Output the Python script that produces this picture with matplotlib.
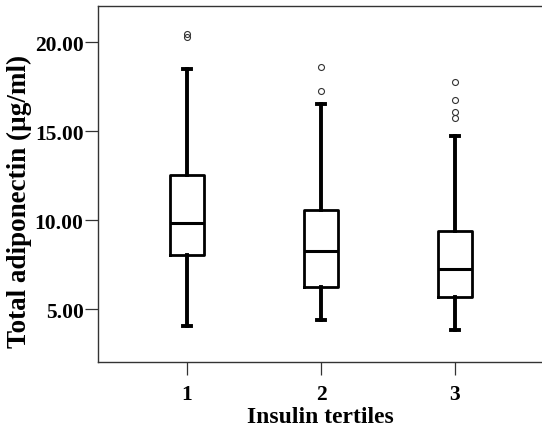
import matplotlib
matplotlib.use("Agg")
import matplotlib.pyplot as plt

# box statistics (ug/ml)
groups = [1, 2, 3]
tick_labels = ["1", "2", "3"]
whislo = [4.06, 4.40, 3.85]
q1 = [8.05, 6.24, 5.67]
med = [9.83, 8.29, 7.26]
q3 = [12.57, 10.60, 9.38]
whishi = [18.48, 16.54, 14.74]
fliers = [
    [20.48, 20.32],
    [18.63, 17.25],
    [17.75, 16.76, 16.09, 15.72],
]

plt.rcParams['font.family'] = ['Liberation Serif', 'DejaVu Serif']

fig = plt.figure(figsize=(5.42, 4.35), dpi=100)
ax = fig.add_axes([0.181, 0.1655, 0.819, 0.8195])

stats = []
for i in range(len(groups)):
    stats.append(dict(whislo=whislo[i], q1=q1[i], med=med[i], q3=q3[i],
                      whishi=whishi[i], fliers=fliers[i]))

ax.bxp(stats, positions=groups, widths=0.25, showfliers=True,
       boxprops=dict(color='black', linewidth=2.0),
       medianprops=dict(color='black', linewidth=2.2),
       whiskerprops=dict(color='black', linewidth=2.8),
       capprops=dict(color='black', linewidth=2.8),
       capwidths=0.06,
       flierprops=dict(marker='o', markersize=4.3, markerfacecolor='none',
                       markeredgecolor='#333333', markeredgewidth=0.8))

ax.set_xlim(0.336, 3.65)
ax.set_ylim(2.04, 22.06)
ax.set_xticks(groups)
ax.set_xticklabels(tick_labels)
ax.set_yticks([5, 10, 15, 20])
ax.set_yticklabels(["5.00", "10.00", "15.00", "20.00"])

for lab in ax.get_xticklabels() + ax.get_yticklabels():
    lab.set_fontweight('bold')
    lab.set_fontsize(15.5)
ax.tick_params(axis='both', direction='out', length=9.5, width=0.9,
               color='#333333', pad=1)
ax.tick_params(axis='x', pad=6)

ax.set_xlabel("Insulin tertiles", fontsize=17, fontweight='bold', labelpad=2)
ax.set_ylabel("Total adiponectin (µg/ml)", fontsize=19.5, fontweight='bold')
ax.yaxis.set_label_coords(-0.15, 0.454)

for s in ['left', 'bottom', 'top']:
    ax.spines[s].set_color('#333333')
    ax.spines[s].set_linewidth(1.0)
ax.spines['right'].set_visible(False)

fig.savefig("out.png", dpi=100)
